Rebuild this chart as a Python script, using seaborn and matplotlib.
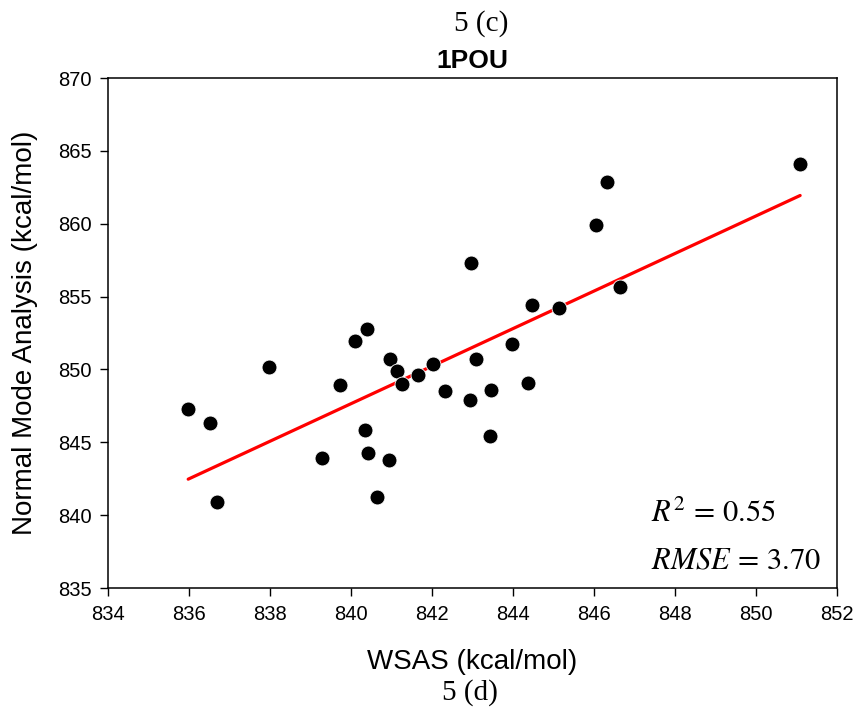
import matplotlib
matplotlib.use("Agg")
import matplotlib.pyplot as plt
import seaborn as sns
import pandas as pd

# Data
wsas = [835.98, 836.52, 836.68, 837.98, 839.29, 839.73, 840.11, 840.40, 840.35,
        840.42, 840.63, 840.97, 840.95, 841.14, 841.27, 841.65, 842.03, 842.33,
        842.96, 842.94, 843.09, 843.43, 843.46, 843.97, 844.37, 844.48, 845.14,
        846.04, 846.33, 846.64, 851.09]
nma = [847.26, 846.34, 840.88, 850.19, 843.94, 848.93, 851.95, 852.77, 845.84,
       844.28, 841.22, 850.73, 843.78, 849.91, 848.98, 849.64, 850.39, 848.54,
       857.28, 847.90, 850.73, 845.45, 848.56, 851.72, 849.04, 854.40, 854.24,
       859.93, 862.88, 855.63, 864.12]
x_ticks = [834, 836, 838, 840, 842, 844, 846, 848, 850, 852]
y_ticks = [835, 840, 845, 850, 855, 860, 865, 870]
stats_lines = [r"$R^2\,=\,0.55$", r"$RMSE\,=\,3.70$"]

df = pd.DataFrame({"WSAS": wsas, "NMA": nma})

sns.set_theme(style="white")
plt.rcParams["font.family"] = ["Liberation Sans", "DejaVu Sans"]
plt.rcParams["mathtext.fontset"] = "stix"
for key in ["text.color", "axes.labelcolor", "xtick.color", "ytick.color", "axes.edgecolor"]:
    plt.rcParams[key] = "black"

fig = plt.figure(figsize=(8.55, 7.17), dpi=100)
ax = fig.add_axes([108 / 855, 1 - 588 / 717, 729 / 855, 510 / 717])

sns.regplot(data=df, x="WSAS", y="NMA", ax=ax, ci=None,
            scatter_kws=dict(s=115, color="black", edgecolor="white",
                             linewidths=0.6, alpha=1, zorder=3),
            line_kws=dict(color="red", linewidth=2.3, zorder=2))

ax.set_xlim(834, 852)
ax.set_ylim(835, 870)
ax.set_xticks(x_ticks)
ax.set_yticks(y_ticks)
ax.tick_params(axis="both", which="major", direction="out", length=6,
               width=1.0, color="black", labelcolor="black", labelsize=14.5, pad=6,
               bottom=True, left=True, top=False, right=False)
for sp in ax.spines.values():
    sp.set_color("black")
    sp.set_linewidth(1.1)
    sp.set_visible(True)

ax.set_xlabel("WSAS (kcal/mol)", fontsize=20, color="black")
ax.set_ylabel("Normal Mode Analysis (kcal/mol)", fontsize=20, color="black")
ax.xaxis.label.set_va("center")
ax.xaxis.set_label_coords(0.5, (588 - 662) / 510)
ax.yaxis.label.set_va("center")
ax.yaxis.set_label_coords((25 - 108) / 729, 0.5)

ax.text(847.4, 839.53, stats_lines[0], fontsize=22, ha="left", va="baseline", color="black")
ax.text(847.4, 836.37, stats_lines[1], fontsize=22, ha="left", va="baseline", color="black")

fig.text(481 / 855, 1 - 24 / 717, "5 (c)", fontsize=21, ha="center", va="center",
         color="black", family=["Liberation Serif", "DejaVu Serif"])
fig.text(472 / 855, 1 - 61 / 717, "1POU", fontsize=19, fontweight="bold",
         color="black", ha="center", va="center")
fig.text(470 / 855, 1 - 693 / 717, "5 (d)", fontsize=21, ha="center", va="center",
         color="black", family=["Liberation Serif", "DejaVu Serif"])

fig.savefig("out.png", dpi=100)
